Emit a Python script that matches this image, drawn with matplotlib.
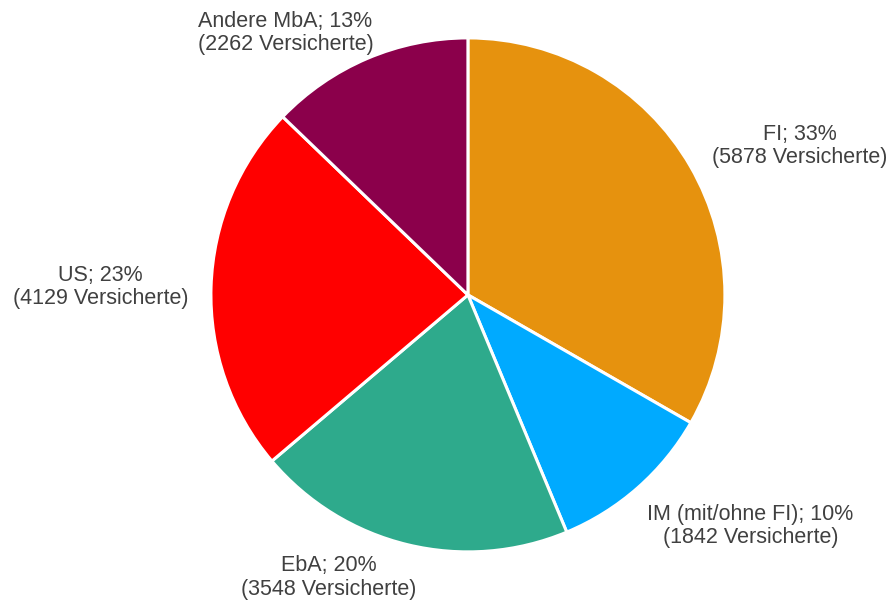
import matplotlib.pyplot as plt

plt.rcParams['font.family'] = ['Liberation Sans', 'DejaVu Sans']

categories = ["FI", "IM (mit/ohne FI)", "EbA", "US", "Andere MbA"]
counts = [5878, 1842, 3548, 4129, 2262]
colors = ["#E6920E", "#00AAFF", "#2EAA8C", "#FF0000", "#8B004B"]
# label centres in units of the pie radius
label_pos = [(1.29, 0.58), (1.10, -0.90), (-0.54, -1.10), (-1.43, 0.03), (-0.71, 1.02)]

total = sum(counts)
labels = ["%s; %d%%\n(%d Versicherte)" % (c, round(100 * n / total), n)
          for c, n in zip(categories, counts)]

fig = plt.figure(figsize=(8.9, 6), dpi=100)
ax = fig.add_axes([0.237, 0.080, 0.5775, 0.857])
wedges, _ = ax.pie(counts, colors=colors, startangle=90, counterclock=False,
                   wedgeprops=dict(edgecolor="white", linewidth=2.2))
for lab, (x, y) in zip(labels, label_pos):
    ax.text(x, y, lab, ha="center", va="center", fontsize=15.5,
            color="#404040", linespacing=1.15)
ax.set_xlim(-1, 1)
ax.set_ylim(-1, 1)
ax.set_aspect("equal")
ax.axis("off")
fig.savefig("out.png")
